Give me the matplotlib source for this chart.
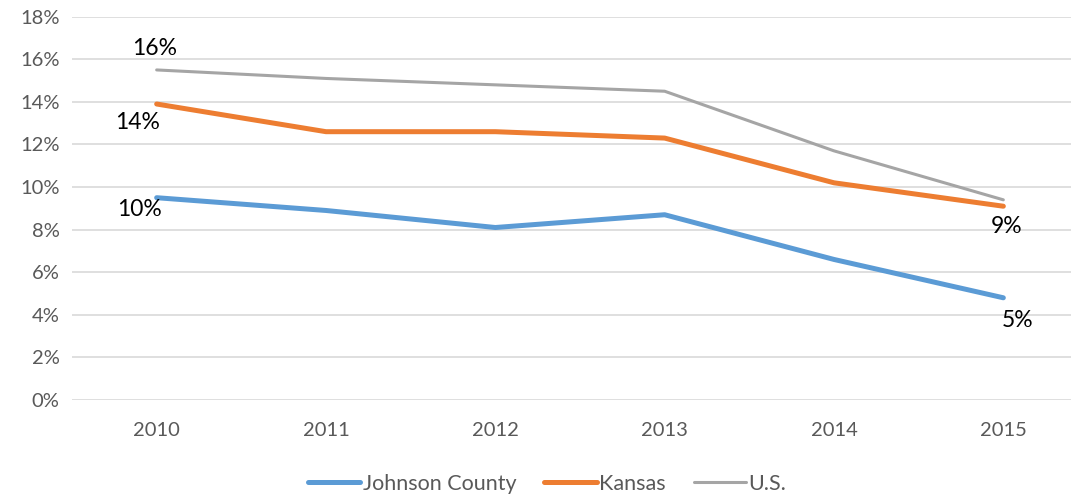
import matplotlib
matplotlib.use("Agg")
import matplotlib.pyplot as plt

years = ["2010", "2011", "2012", "2013", "2014", "2015"]
johnson = [9.5, 8.9, 8.1, 8.7, 6.6, 4.8]
kansas = [13.9, 12.6, 12.6, 12.3, 10.2, 9.1]
us = [15.5, 15.1, 14.8, 14.5, 11.7, 9.4]
series_names = ["Johnson County", "Kansas", "U.S."]
yticks = [0, 2, 4, 6, 8, 10, 12, 14, 16, 18]

# labels: (series, index, text, dx px, dy px)
labels = [
    ("us", 0, "16%", -2, 21),
    ("kansas", 0, "14%", -19, -18),
    ("johnson", 0, "10%", -17, -12),
    ("kansas", 5, "9%", 3, -20),
    ("johnson", 5, "5%", 14, -23),
]

plt.rcParams['font.family'] = ['Lato', 'DejaVu Sans']

W, H = 1071, 496
fig = plt.figure(figsize=(W / 100, H / 100), dpi=100)
ax = fig.add_axes([72 / W, 96 / H, (1088 - 72) / W, 383.3 / H])

x = list(range(len(years)))
data = {"johnson": johnson, "kansas": kansas, "us": us}
colors = {"johnson": "#5B9BD5", "kansas": "#ED7D31", "us": "#A5A5A5"}
widths = {"johnson": 3.6, "kansas": 3.6, "us": 2.2}
for key, name in zip(["johnson", "kansas", "us"], series_names):
    ax.plot(x, data[key], color=colors[key], lw=widths[key], solid_capstyle='round',
            solid_joinstyle='round', label=name, zorder=3)

ax.set_xlim(-0.5, len(years) - 0.5)
ax.set_ylim(0, 18)
ax.set_yticks(yticks)
ax.set_yticklabels([f"{v}%" for v in yticks])
ax.set_xticks(x)
ax.set_xticklabels(years)
ax.grid(axis='y', color='#D9D9D9', lw=1.2, zorder=0)
ax.set_axisbelow(True)
for s in ax.spines.values():
    s.set_visible(False)
ax.tick_params(axis='both', length=0, labelsize=14.5, colors='#595959')
ax.tick_params(axis='y', pad=9)
ax.tick_params(axis='x', pad=16)

for key, i, txt, dx, dy in labels:
    ax.annotate(txt, (x[i], data[key][i]), xytext=(dx, dy), textcoords='offset pixels',
                ha='center', va='center', fontsize=16.5, color='black', zorder=4)

leg = fig.legend(loc='center', bbox_to_anchor=(547 / W, 1 - 484 / H), ncol=3, frameon=False,
                 fontsize=15.5, handlelength=2.45, columnspacing=1.3, handletextpad=0.1)
for t in leg.get_texts():
    t.set_color('#595959')

fig.savefig("out.png", dpi=100)
